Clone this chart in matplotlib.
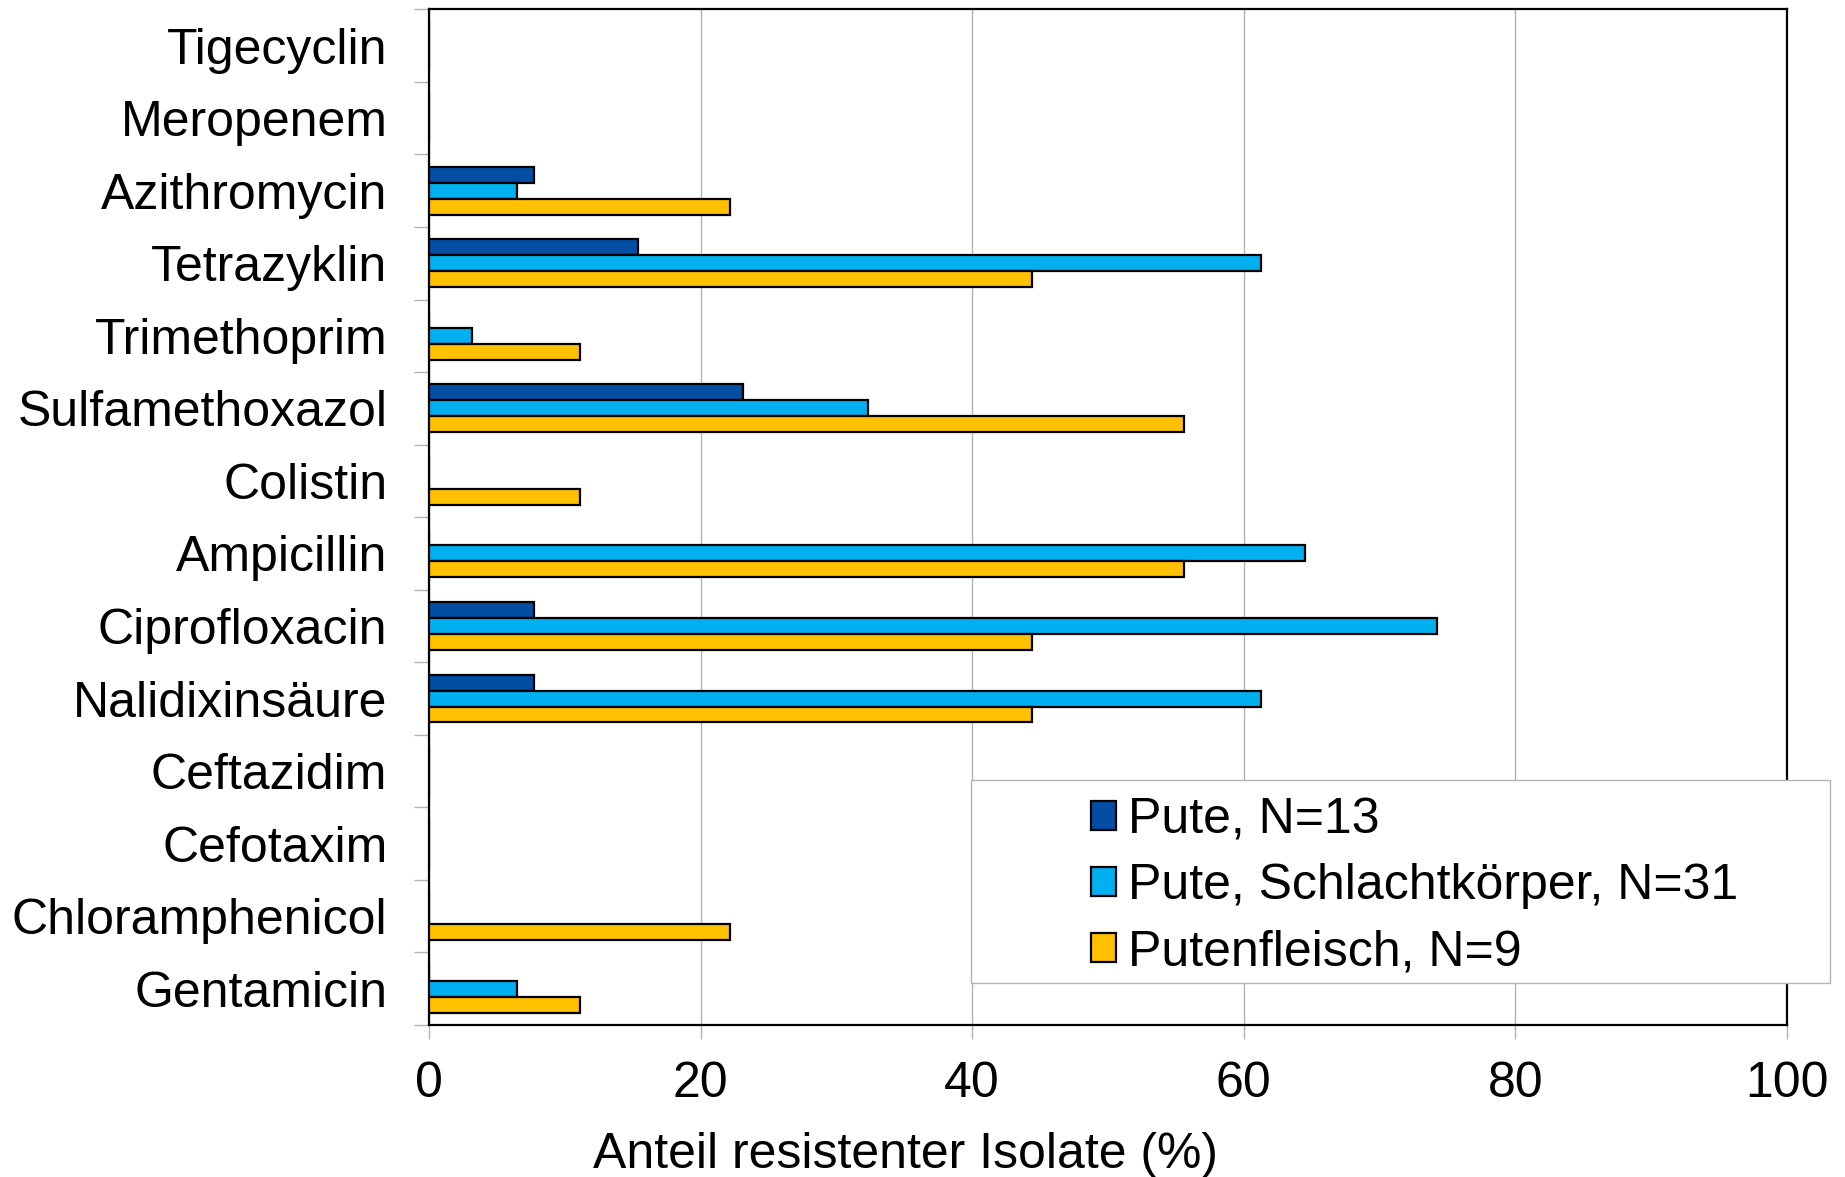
import numpy as np
import matplotlib
matplotlib.use("Agg")
import matplotlib.pyplot as plt
from matplotlib.patches import Rectangle

plt.rcParams['font.family'] = ['Liberation Sans', 'DejaVu Sans']

antibiotika = ["Tigecyclin", "Meropenem", "Azithromycin", "Tetrazyklin",
               "Trimethoprim", "Sulfamethoxazol", "Colistin", "Ampicillin",
               "Ciprofloxacin", "Nalidixinsäure", "Ceftazidim", "Cefotaxim",
               "Chloramphenicol", "Gentamicin"]
pute = [0, 0, 7.7, 15.4, 0, 23.1, 0, 0, 7.7, 7.7, 0, 0, 0, 0]
schlachtkoerper = [0, 0, 6.5, 61.3, 3.2, 32.3, 0, 64.5, 74.2, 61.3, 0, 0, 0, 6.5]
putenfleisch = [0, 0, 22.2, 44.4, 11.1, 55.6, 11.1, 55.6, 44.4, 44.4, 0, 0, 22.2, 11.1]
serien = ["Pute, N=13", "Pute, Schlachtkörper, N=31", "Putenfleisch, N=9"]
farben = ["#034ea2", "#00b0f0", "#ffc000"]

fs = 36
fig = plt.figure(figsize=(18.45, 11.77), dpi=100)
ax = fig.add_axes([429 / 1845, 1 - 1025 / 1177, (1787 - 429) / 1845, (1025 - 9.4) / 1177])

y = np.arange(len(antibiotika))
h = 0.22
handles = []
for off, werte, farbe, name in zip([-h, 0, h], [pute, schlachtkoerper, putenfleisch], farben, serien):
    b = ax.barh(y + off, werte, height=h, color=farbe, edgecolor="black", linewidth=1.6,
                label=name, zorder=3)
    handles.append(b)

ax.set_xlim(0, 100)
ax.set_ylim(len(antibiotika) - 0.5, -0.5)
ax.set_xticks([0, 20, 40, 60, 80, 100])
ax.set_yticks(y)
ax.set_yticklabels(antibiotika)
ax.set_yticks(np.arange(-0.5, len(antibiotika)), minor=True)
ax.tick_params(axis="y", which="major", length=0, pad=30, labelsize=fs)
ax.tick_params(axis="y", which="minor", length=11, width=1, color="#b3b3b3")
ax.tick_params(axis="x", length=10, width=1, color="#b3b3b3", pad=16, labelsize=fs)
ax.grid(axis="x", color="#b3b3b3", linewidth=1, zorder=0)
ax.set_axisbelow(True)
for s in ax.spines.values():
    s.set_linewidth(1.6)
ax.set_xlabel("Anteil resistenter Isolate (%)", fontsize=fs)
ax.xaxis.set_label_coords(0.3506, -0.105)

# legend box sticks out past the right edge of the axes
fig.add_artist(Rectangle((971 / 1845, 1 - 983 / 1177), (1830 - 971) / 1845, (983 - 780) / 1177,
                         transform=fig.transFigure, facecolor="white", edgecolor="#b3b3b3",
                         linewidth=1, zorder=4))
fig.legend(handles=handles, labels=serien, loc="center left",
           bbox_to_anchor=(1091 / 1845, 1 - 886 / 1177), frameon=False, fontsize=fs,
           handlelength=0.5, handleheight=0.5, handletextpad=0.25, labelspacing=0.4,
           borderpad=0, borderaxespad=0)

fig.savefig("out.png", dpi=100)
